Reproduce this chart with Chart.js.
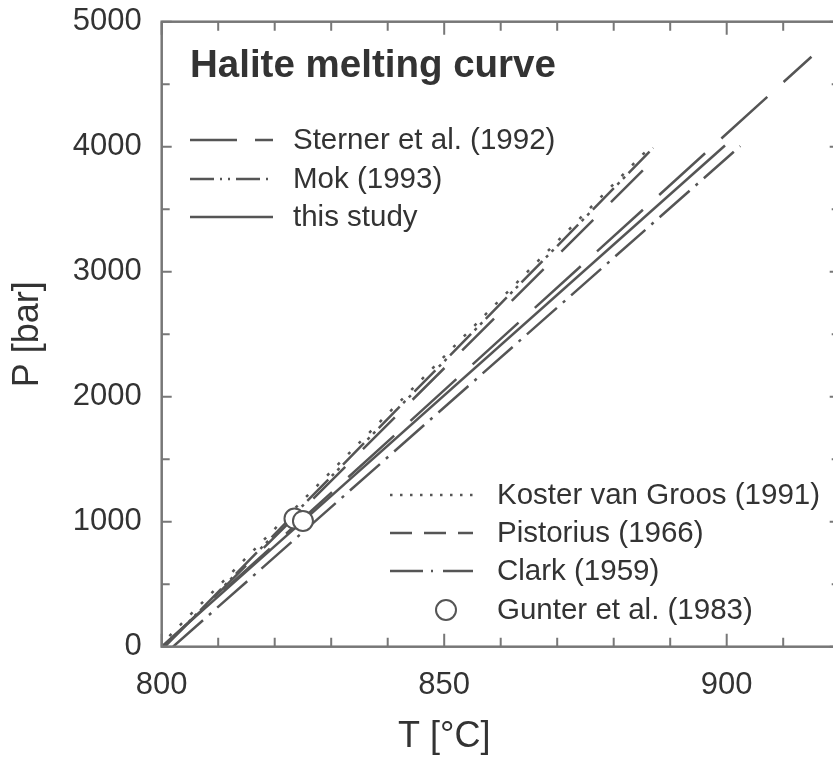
<!DOCTYPE html>
<html>
<head>
<meta charset="utf-8">
<script src="https://cdn.jsdelivr.net/npm/chart.js@4.4.1/dist/chart.umd.min.js"></script>
<style>
  html, body { margin: 0; padding: 0; background: #fff; overflow: hidden; }
  #chart { display: block; }
</style>
</head>
<body>
<canvas id="chart" width="850" height="757"></canvas>
<script>
// halite melting curves, T in degC and P in bar
const kosterT = [799.5, 886.5];
const kosterP = [0, 4000];
const mokT = [800.5, 887];
const mokP = [0, 3990];
const pistoriusT = [800.5, 887.6];
const pistoriusP = [0, 3920];
const sternerT = [800, 915];
const sternerP = [0, 4720];
const studyT = [800, 899.7];
const studyP = [0, 4010];
const clarkT = [802, 902.4];
const clarkP = [0, 4005];
const gunterT = [823.5, 825];
const gunterP = [1025, 1006];

const xLabels = [800, 850, 900];
const yLabels = [0, 1000, 2000, 3000, 4000, 5000];

const FONT = '"Liberation Sans", Arial, sans-serif';
const LINE = '#555';
const TEXT = '#333';

function pts(xs, ys) {
    return xs.map((x, i) => ({ x: x, y: ys[i] }));
}

function curve(label, xs, ys, dash) {
    return {
        label: label,
        data: pts(xs, ys),
        showLine: true,
        borderColor: LINE,
        borderWidth: 2.5,
        borderDash: dash,
        pointRadius: 0,
        order: 1
    };
}

const datasets = [
    {
        label: 'Gunter et al. (1983)',
        data: pts(gunterT, gunterP),
        pointStyle: 'circle',
        pointRadius: 10,
        borderColor: LINE,
        borderWidth: 2,
        backgroundColor: '#fff',
        order: 0
    },
    curve('Koster van Groos (1991)', kosterT, kosterP, [3, 12]),
    curve('Mok (1993)', mokT, mokP, [30, 5, 3, 5, 3, 5]),
    curve('Pistorius (1966)', pistoriusT, pistoriusP, [45, 25]),
    curve('Sterner et al. (1992)', sternerT, sternerP, [62, 22]),
    curve('this study', studyT, studyP, []),
    curve('Clark (1959)', clarkT, clarkP, [40, 8, 3, 8])
];

// frame with inward ticks on all four sides
const framePlugin = {
    id: 'frame',
    afterDatasetsDraw(chart) {
        const ctx = chart.ctx;
        const a = chart.chartArea;
        const x = chart.scales.x;
        const y = chart.scales.y;
        ctx.save();
        ctx.strokeStyle = '#777';
        ctx.lineWidth = 2.5;
        ctx.strokeRect(a.left, a.top, a.right - a.left, a.bottom - a.top);
        ctx.lineWidth = 2;
        ctx.beginPath();
        x.ticks.forEach(t => {
            const px = x.getPixelForValue(t.value);
            const len = xLabels.includes(t.value) ? 13 : 9;
            ctx.moveTo(px, a.bottom); ctx.lineTo(px, a.bottom - len);
            ctx.moveTo(px, a.top); ctx.lineTo(px, a.top + len);
        });
        y.ticks.forEach(t => {
            const py = y.getPixelForValue(t.value);
            const len = yLabels.includes(t.value) ? 10 : 8;
            ctx.moveTo(a.left, py); ctx.lineTo(a.left + len, py);
            ctx.moveTo(a.right, py); ctx.lineTo(a.right - len, py);
        });
        ctx.stroke();
        ctx.restore();
    }
};

function sample(ctx, x0, x1, yy, dash) {
    ctx.setLineDash(dash);
    ctx.beginPath();
    ctx.moveTo(x0, yy);
    ctx.lineTo(x1, yy);
    ctx.stroke();
}

// title, both legend boxes and the x axis title
const textPlugin = {
    id: 'texts',
    afterDraw(chart) {
        const ctx = chart.ctx;
        ctx.save();
        ctx.fillStyle = TEXT;
        ctx.textBaseline = 'alphabetic';
        ctx.font = 'bold 38.5px ' + FONT;
        ctx.fillText('Halite melting curve', 190, 77);

        ctx.strokeStyle = LINE;
        ctx.lineWidth = 2.5;
        ctx.font = '29.5px ' + FONT;
        ctx.textBaseline = 'middle';

        sample(ctx, 190, 273, 140, [47, 18, 18, 18]);
        ctx.fillText('Sterner et al. (1992)', 293, 141);
        sample(ctx, 190, 273, 179, [24, 6, 2, 6, 2, 6]);
        ctx.fillText('Mok (1993)', 293, 180);
        sample(ctx, 190, 273, 217, []);
        ctx.fillText('this study', 293, 218);

        sample(ctx, 390, 473, 495, [2.5, 7.5]);
        ctx.fillText('Koster van Groos (1991)', 497, 496);
        sample(ctx, 390, 473, 533, [22, 12]);
        ctx.fillText('Pistorius (1966)', 497, 534);
        sample(ctx, 390, 473, 571, [33, 8, 2, 10]);
        ctx.fillText('Clark (1959)', 497, 572);
        ctx.setLineDash([]);
        ctx.lineWidth = 2;
        ctx.beginPath();
        ctx.arc(446, 610, 10, 0, Math.PI * 2);
        ctx.stroke();
        ctx.fillText('Gunter et al. (1983)', 497, 611);

        ctx.font = '36px ' + FONT;
        ctx.textAlign = 'center';
        ctx.textBaseline = 'alphabetic';
        ctx.fillText('T [°C]', chart.scales.x.getPixelForValue(850), 747);
        ctx.restore();
    }
};

new Chart(document.getElementById('chart'), {
    type: 'scatter',
    data: { datasets: datasets },
    options: {
        responsive: false,
        animation: false,
        layout: { autoPadding: false, padding: { top: 21.7, right: 10.3, left: 0, bottom: 0 } },
        plugins: { legend: { display: false }, tooltip: { enabled: false } },
        scales: {
            x: {
                type: 'linear',
                min: 800,
                max: 920,
                afterFit: s => {
                    s.height = 110.3;
                    s.paddingLeft = 0;
                    s.paddingRight = 0;
                },
                border: { display: false },
                grid: { display: false, drawTicks: false },
                ticks: {
                    stepSize: 10,
                    autoSkip: false,
                    maxRotation: 0,
                    padding: 20,
                    color: TEXT,
                    font: { family: FONT, size: 31 },
                    callback: v => xLabels.includes(v) ? String(v) : ''
                }
            },
            y: {
                type: 'linear',
                min: 0,
                max: 5000,
                afterFit: s => {
                    s.width = 161.7;
                    s.paddingTop = 0;
                    s.paddingBottom = 0;
                },
                border: { display: false },
                grid: { display: false, drawTicks: false },
                ticks: {
                    stepSize: 500,
                    autoSkip: false,
                    padding: 20,
                    color: TEXT,
                    font: { family: FONT, size: 31 },
                    callback: v => yLabels.includes(v) ? String(v) : ''
                },
                title: {
                    display: true,
                    text: 'P [bar]',
                    color: TEXT,
                    font: { family: FONT, size: 36 },
                    padding: { top: 6, bottom: 0 }
                }
            }
        }
    },
    plugins: [framePlugin, textPlugin]
});
</script>
</body>
</html>
